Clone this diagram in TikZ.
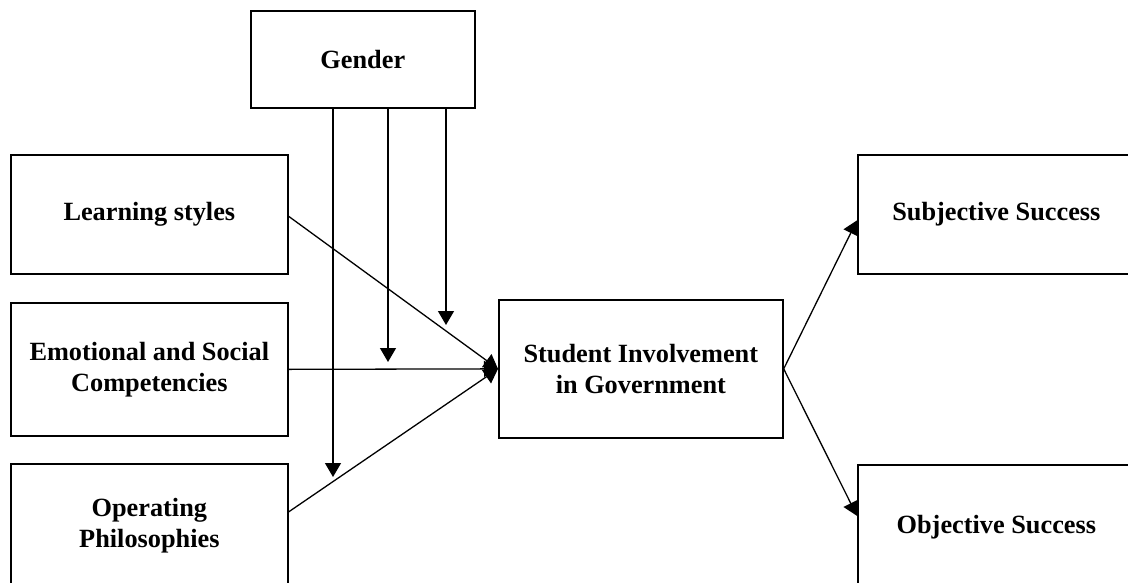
\documentclass[tikz,border=0pt]{standalone}
\usepackage{fontspec}
\setmainfont{Liberation Serif}
\usetikzlibrary{arrows.meta,calc}
\begin{document}
\begin{tikzpicture}[x=1pt,y=-1pt,
  box/.style={draw,line width=1.7pt,inner sep=0pt,anchor=north west,align=center,
    font=\fontsize{26.3}{31}\selectfont\bfseries},
  link/.style={line width=1.3pt,-{Triangle[length=14pt,width=16pt]}}]
\useasboundingbox (0,0) rectangle (1128,582);
\clip (0,0) rectangle (1128,582);
% boxes
\node[box,minimum width=224pt,minimum height=97pt] (gender) at (250,10) {Gender};
\node[box,minimum width=277pt,minimum height=119pt] (learn) at (10,154) {Learning styles};
\node[box,minimum width=277pt,minimum height=133pt] (emo) at (10,302) {Emotional and Social\\Competencies};
\node[box,minimum width=277pt,minimum height=124pt] (op) at (10,463) {Operating\\Philosophies};
\node[box,minimum width=284pt,minimum height=138pt] (stu) at (498,299) {Student Involvement\\in Government};
\node[box,minimum width=277pt,minimum height=119pt] (subj) at (857,154) {Subjective Success};
\node[box,minimum width=277pt,minimum height=124pt] (obj) at (857,464) {Objective Success};
% moderator arrow ends
\coordinate (g1) at (333,477);
\coordinate (g2) at (388,362);
\coordinate (g3) at (446,325);
\draw[link] (gender.south -| g1) -- (g1);
\draw[link] (gender.south -| g2) -- (g2);
\draw[link] (gender.south -| g3) -- (g3);
% predictors to involvement
\draw[link] ([yshift=-2pt]learn.east) -- (stu.west);
\draw[link] (emo.east) -- (stu.west);
\draw[link] ([yshift=14pt]op.east) -- (stu.west);
% involvement to outcomes
\draw[link] (stu.east) -- ([yshift=-6pt]subj.west);
\draw[link] (stu.east) -- ([yshift=11pt]obj.west);
\end{tikzpicture}
\end{document}
